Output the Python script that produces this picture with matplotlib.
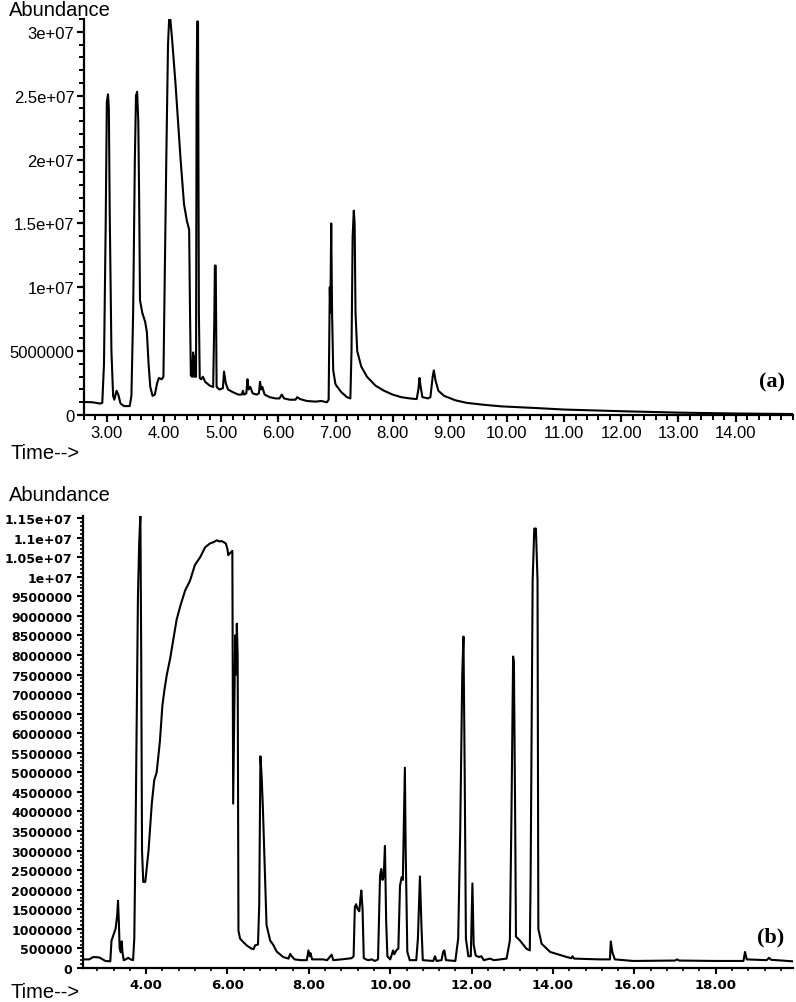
import matplotlib
matplotlib.use('Agg')
import matplotlib.pyplot as plt
from matplotlib.ticker import MultipleLocator

# chromatogram (a): time in min, abundance in millions
a_time = [2.60, 2.75, 2.88, 2.92, 2.95, 2.98, 3.00, 3.02, 3.035, 3.05, 3.08, 3.11, 3.13, 3.17, 3.20, 3.24,
          3.30, 3.40, 3.43, 3.46, 3.49, 3.51, 3.53, 3.55, 3.565, 3.58, 3.62, 3.67, 3.70, 3.73, 3.76, 3.80,
          3.84, 3.88, 3.91, 3.96, 3.99, 4.01, 4.04, 4.07, 4.09, 4.11, 4.14, 4.20, 4.29, 4.35, 4.40, 4.44,
          4.455, 4.47, 4.49, 4.51, 4.52, 4.53, 4.545, 4.56, 4.57, 4.58, 4.595, 4.61, 4.625, 4.65, 4.68, 4.72,
          4.80, 4.86, 4.88, 4.89, 4.905, 4.92, 4.97, 5.03, 5.05, 5.08, 5.12, 5.20, 5.30, 5.36, 5.38, 5.40,
          5.44, 5.46, 5.48, 5.51, 5.55, 5.62, 5.66, 5.68, 5.70, 5.72, 5.76, 5.85, 5.95, 6.02, 6.06, 6.10,
          6.20, 6.30, 6.33, 6.38, 6.50, 6.65, 6.75, 6.85, 6.88, 6.90, 6.91, 6.925, 6.94, 6.96, 7.00, 7.10,
          7.20, 7.26, 7.28, 7.30, 7.32, 7.335, 7.35, 7.38, 7.45, 7.55, 7.70, 7.85, 8.00, 8.15, 8.30, 8.42,
          8.45, 8.47, 8.49, 8.52, 8.62, 8.66, 8.70, 8.72, 8.75, 8.80, 8.90, 9.10, 9.30, 9.60, 9.90, 10.5,
          11.0, 12.0, 13.0, 14.0, 15.0]
a_abund = [1.02, 1.00, 0.90, 0.95, 4.0, 15.0, 24.5, 25.1, 24.0, 16.0, 5.0, 1.5, 1.2, 1.9, 1.6, 0.9,
           0.7, 0.7, 1.5, 8.0, 20.0, 25.0, 25.3, 23.0, 17.0, 9.0, 8.0, 7.3, 6.5, 4.0, 2.2, 1.5,
           1.6, 2.5, 2.9, 2.8, 3.0, 10.0, 20.0, 29.0, 31.0, 31.0, 29.5, 26.0, 20.0, 16.5, 15.2, 14.5,
           8.0, 3.1, 3.0, 4.9, 3.0, 4.6, 3.0, 3.0, 25.0, 30.8, 30.8, 8.0, 2.9, 2.8, 3.0, 2.6,
           2.3, 2.2, 7.5, 11.7, 11.7, 2.2, 2.0, 2.1, 3.4, 2.5, 2.0, 1.8, 1.6, 1.6, 1.9, 1.6,
           1.7, 2.8, 2.0, 2.2, 1.7, 1.6, 1.7, 2.6, 2.0, 2.2, 1.6, 1.4, 1.3, 1.3, 1.6, 1.3,
           1.2, 1.2, 1.4, 1.25, 1.1, 1.05, 1.1, 1.0, 1.2, 10.0, 8.0, 15.0, 8.0, 3.5, 2.4, 1.8,
           1.4, 1.3, 5.0, 14.0, 16.0, 15.0, 8.0, 5.0, 3.8, 3.0, 2.3, 1.9, 1.6, 1.4, 1.3, 1.25,
           2.0, 2.9, 2.2, 1.4, 1.3, 1.4, 3.0, 3.5, 2.7, 1.9, 1.5, 1.15, 0.95, 0.8, 0.68, 0.55,
           0.43, 0.30, 0.19, 0.12, 0.08]

# chromatogram (b)
b_time = [2.45, 2.60, 2.70, 2.85, 3.00, 3.12, 3.15, 3.20, 3.25, 3.29, 3.31, 3.33, 3.35, 3.38, 3.40, 3.42,
          3.45, 3.50, 3.56, 3.62, 3.68, 3.71, 3.74, 3.77, 3.80, 3.83, 3.86, 3.88, 3.90, 3.93, 3.98, 4.06,
          4.14, 4.20, 4.26, 4.34, 4.40, 4.45, 4.51, 4.59, 4.67, 4.75, 4.84, 4.96, 5.08, 5.20, 5.33, 5.45,
          5.57, 5.65, 5.74, 5.80, 5.86, 5.96, 6.00, 6.02, 6.06, 6.12, 6.13, 6.14, 6.16, 6.19, 6.21, 6.23,
          6.25, 6.27, 6.31, 6.40, 6.47, 6.58, 6.64, 6.68, 6.75, 6.78, 6.81, 6.84, 6.87, 6.92, 6.96, 7.05,
          7.12, 7.21, 7.37, 7.50, 7.54, 7.58, 7.65, 7.80, 7.95, 7.99, 8.02, 8.04, 8.08, 8.35, 8.45, 8.56,
          8.60, 8.80, 9.05, 9.10, 9.13, 9.16, 9.20, 9.24, 9.27, 9.29, 9.32, 9.35, 9.45, 9.55, 9.62, 9.70,
          9.75, 9.78, 9.81, 9.84, 9.87, 9.90, 9.93, 10.0, 10.07, 10.10, 10.15, 10.20, 10.24, 10.28, 10.31, 10.34,
          10.36, 10.38, 10.42, 10.48, 10.64, 10.68, 10.73, 10.77, 10.80, 11.06, 11.10, 11.14, 11.26, 11.30, 11.33, 11.37,
          11.60, 11.67, 11.72, 11.77, 11.80, 11.83, 11.86, 11.92, 11.98, 12.02, 12.05, 12.10, 12.18, 12.24, 12.30, 12.45,
          12.55, 12.86, 12.94, 12.98, 13.02, 13.04, 13.07, 13.09, 13.19, 13.35, 13.43, 13.45, 13.50, 13.54, 13.58, 13.62,
          13.64, 13.72, 13.93, 14.34, 14.45, 14.48, 14.52, 15.15, 15.40, 15.42, 15.46, 15.52, 15.97, 17.0, 17.05, 17.1,
          18.0, 18.68, 18.72, 18.76, 19.25, 19.31, 19.36, 19.9]
b_abund = [0.22, 0.22, 0.28, 0.27, 0.18, 0.17, 0.7, 0.85, 1.0, 1.35, 1.72, 1.2, 0.5, 0.4, 0.68, 0.4,
           0.2, 0.22, 0.26, 0.22, 0.2, 0.75, 3.3, 6.5, 9.5, 10.85, 11.6, 8.0, 3.0, 2.2, 2.2, 3.0,
           4.2, 4.8, 5.0, 5.8, 6.7, 7.1, 7.5, 7.9, 8.4, 8.9, 9.25, 9.65, 9.9, 10.3, 10.5, 10.75,
           10.85, 10.88, 10.93, 10.90, 10.91, 10.85, 10.7, 10.55, 10.6, 10.66, 7.0, 4.2, 6.0, 8.5, 7.5, 8.8,
           8.0, 0.95, 0.75, 0.65, 0.58, 0.5, 0.48, 0.58, 0.6, 1.6, 5.41, 4.9, 4.1, 2.4, 1.1, 0.7,
           0.6, 0.42, 0.28, 0.24, 0.36, 0.3, 0.22, 0.2, 0.2, 0.45, 0.3, 0.38, 0.22, 0.22, 0.2, 0.34,
           0.2, 0.22, 0.25, 0.3, 1.55, 1.63, 1.5, 1.45, 1.8, 1.98, 1.5, 0.25, 0.2, 0.22, 0.18, 0.22,
           2.36, 2.53, 2.25, 2.35, 3.12, 1.2, 0.3, 0.22, 0.45, 0.35, 0.45, 0.5, 2.1, 2.32, 2.25, 4.0,
           5.12, 3.0, 0.41, 0.2, 0.2, 0.75, 2.34, 1.0, 0.2, 0.18, 0.3, 0.18, 0.2, 0.41, 0.45, 0.2,
           0.18, 0.75, 3.5, 7.5, 8.47, 5.0, 0.75, 0.3, 0.3, 2.16, 0.6, 0.32, 0.28, 0.3, 0.2, 0.24,
           0.2, 0.24, 0.7, 3.97, 7.96, 7.8, 3.9, 0.8, 0.7, 0.49, 0.45, 2.27, 9.9, 11.23, 11.23, 9.9,
           1.0, 0.62, 0.41, 0.28, 0.25, 0.3, 0.24, 0.22, 0.22, 0.68, 0.4, 0.22, 0.18, 0.19, 0.22, 0.19,
           0.18, 0.18, 0.41, 0.22, 0.2, 0.26, 0.21, 0.17]

a_xticks = [3, 4, 5, 6, 7, 8, 9, 10, 11, 12, 13, 14]
a_yticks = [0, 5e6, 1e7, 1.5e7, 2e7, 2.5e7, 3e7]
a_ylabels = ['0', '5000000', '1e+07', '1.5e+07', '2e+07', '2.5e+07', '3e+07']
b_xticks = [4, 6, 8, 10, 12, 14, 16, 18]
b_yticks = [i * 500000 for i in range(24)]
b_ylabels = ['0', '500000', '1000000', '1500000', '2000000', '2500000', '3000000', '3500000',
             '4000000', '4500000', '5000000', '5500000', '6000000', '6500000', '7000000', '7500000',
             '8000000', '8500000', '9000000', '9500000', '1e+07', '1.05e+07', '1.1e+07', '1.15e+07']

fig = plt.figure(figsize=(7.96, 10.03), dpi=100)
ax1 = fig.add_axes([0.1055, 0.5852, 0.8905, 0.3949])
ax2 = fig.add_axes([0.1043, 0.0339, 0.8920, 0.4506])

ax1.plot(a_time, [v * 1e6 for v in a_abund], color='black', lw=1.5)
ax2.plot(b_time, [v * 1e6 for v in b_abund], color='black', lw=1.5)

for ax in (ax1, ax2):
    ax.spines['top'].set_visible(False)
    ax.spines['right'].set_visible(False)
    ax.spines['left'].set_linewidth(1.6)
    ax.spines['bottom'].set_linewidth(1.6)

# panel (a) axes
ax1.set_xlim(2.6, 15.0)
ax1.set_ylim(0, 3.1e7)
ax1.set_xticks(a_xticks)
ax1.set_xticklabels(['%.2f' % t for t in a_xticks], fontsize=12, family='Liberation Sans')
ax1.set_yticks(a_yticks)
ax1.set_yticklabels(a_ylabels, fontsize=12, family='Liberation Sans')
ax1.xaxis.set_minor_locator(MultipleLocator(0.2))
ax1.yaxis.set_minor_locator(MultipleLocator(1e6))
ax1.tick_params(which='major', length=5, width=1.6, direction='out', pad=2)
ax1.tick_params(which='minor', length=3.5, width=1.4, direction='out')

# panel (b) axes, wide squat digits in the original
ax2.set_xlim(2.45, 19.9)
ax2.set_ylim(0, 1.155e7)
ax2.set_xticks(b_xticks)
ax2.set_xticklabels(['%.2f' % t for t in b_xticks], fontsize=9.5, family='DejaVu Sans', weight='bold')
ax2.set_yticks(b_yticks)
ax2.set_yticklabels(b_ylabels, fontsize=9, family='DejaVu Sans', weight='bold')
ax2.xaxis.set_minor_locator(MultipleLocator(0.4))
ax2.yaxis.set_minor_locator(MultipleLocator(1e5))
ax2.tick_params(which='major', length=4.5, width=1.5, direction='out', pad=3)
ax2.tick_params(which='minor', length=2.5, width=1.2, direction='out')

txt = dict(fontsize=14.5, family='Liberation Sans', ha='left')
fig.text(0.0113, 0.9995, 'Abundance', va='top', **txt)
fig.text(0.0126, 0.5474, 'Time-->', va='center', **txt)
fig.text(0.0113, 0.5055, 'Abundance', va='center', **txt)
fig.text(0.0138, 0.001, 'Time-->', va='bottom', **txt)

fig.text(0.970, 0.619, '(a)', fontsize=16, weight='bold', family='Liberation Serif', ha='center', va='center')
fig.text(0.9686, 0.0658, '(b)', fontsize=16, weight='bold', family='Liberation Serif', ha='center', va='center')

fig.savefig('out.png', dpi=100)
